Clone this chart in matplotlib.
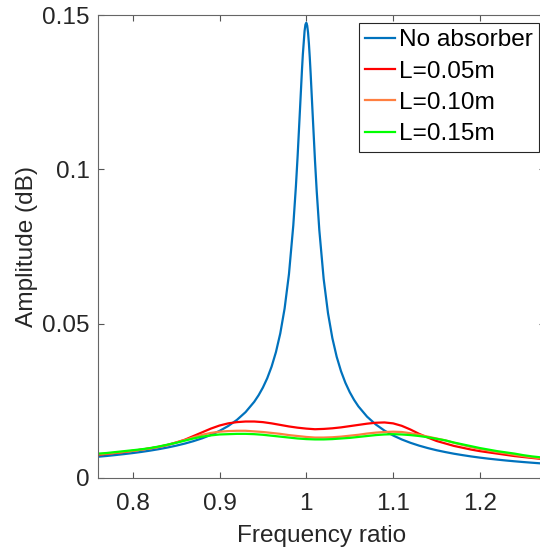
import matplotlib
matplotlib.use('Agg')
import matplotlib.pyplot as plt

# frequency ratio samples for the response without absorber
r_plain = [0.76, 0.77, 0.78, 0.79, 0.80, 0.81, 0.82, 0.83, 0.84, 0.85, 0.86,
           0.87, 0.88, 0.89, 0.90, 0.91, 0.92, 0.93, 0.94, 0.945, 0.95, 0.955,
           0.96, 0.965, 0.97, 0.975, 0.98, 0.985, 0.988, 0.99, 0.993, 0.995,
           0.996, 0.998, 0.999, 1.0, 1.001, 1.002, 1.003, 1.004, 1.005, 1.007,
           1.01, 1.012, 1.015, 1.02, 1.025, 1.03, 1.035, 1.04, 1.045, 1.05,
           1.055, 1.06, 1.07, 1.08, 1.09, 1.10, 1.11, 1.12, 1.13, 1.14, 1.15,
           1.16, 1.17, 1.18, 1.19, 1.20, 1.21, 1.22, 1.23, 1.24, 1.25, 1.26, 1.275]
amp_plain = [0.00689, 0.00714, 0.00743, 0.00774, 0.00808, 0.00845, 0.00887,
             0.00934, 0.00987, 0.01047, 0.01115, 0.01194, 0.01286, 0.01395,
             0.01525, 0.01684, 0.01881, 0.02134, 0.02469, 0.0268, 0.02931,
             0.03234, 0.03608, 0.04078, 0.04684, 0.05492, 0.06603, 0.08183,
             0.09445, 0.10434, 0.1210, 0.1322, 0.1372, 0.1448, 0.1469, 0.1475,
             0.1466, 0.1443, 0.1407, 0.1362, 0.1310, 0.1196, 0.1028, 0.09288,
             0.08025, 0.06448, 0.05338, 0.04533, 0.03927, 0.03459, 0.03086,
             0.02783, 0.02532, 0.02321, 0.01987, 0.01735, 0.01537, 0.01378,
             0.01248, 0.01140, 0.01048, 0.00969, 0.00900, 0.00841, 0.00787,
             0.00741, 0.00698, 0.00660, 0.00626, 0.00596, 0.00567, 0.00541,
             0.00517, 0.00495, 0.00464]

# frequency ratio samples for the absorber cases
r_abs = [0.76, 0.77, 0.78, 0.79, 0.80, 0.81, 0.82, 0.83, 0.84, 0.85, 0.86,
         0.87, 0.88, 0.89, 0.90, 0.91, 0.92, 0.93, 0.94, 0.95, 0.96, 0.97,
         0.98, 0.99, 1.00, 1.01, 1.02, 1.03, 1.04, 1.05, 1.06, 1.07, 1.08,
         1.09, 1.10, 1.11, 1.12, 1.13, 1.14, 1.15, 1.16, 1.17, 1.18, 1.19,
         1.20, 1.21, 1.22, 1.23, 1.24, 1.25, 1.26, 1.27, 1.275]
amp_05 = [0.0075, 0.0078, 0.0081, 0.0084, 0.0088, 0.0092, 0.0096, 0.0101,
          0.0107, 0.0115, 0.0124, 0.0136, 0.0148, 0.0160, 0.0170, 0.0177,
          0.0181, 0.0183, 0.0183, 0.0181, 0.0177, 0.0172, 0.0167, 0.0163,
          0.0160, 0.0158, 0.0159, 0.0161, 0.0164, 0.0168, 0.0172, 0.0176,
          0.0179, 0.0180, 0.0177, 0.0169, 0.0157, 0.0143, 0.0131, 0.0120,
          0.0112, 0.0104, 0.0098, 0.0092, 0.0087, 0.0083, 0.0079, 0.0075,
          0.0071, 0.0068, 0.0065, 0.0062, 0.0060]
amp_10 = [0.0077, 0.0079, 0.0082, 0.0085, 0.0088, 0.0092, 0.0096, 0.0101,
          0.0107, 0.0115, 0.0123, 0.0132, 0.0140, 0.0146, 0.0150, 0.0152,
          0.0153, 0.0153, 0.0151, 0.0149, 0.0146, 0.0143, 0.0139, 0.0136,
          0.0133, 0.0131, 0.0131, 0.0132, 0.0134, 0.0137, 0.0140, 0.0144,
          0.0147, 0.0149, 0.0150, 0.0149, 0.0145, 0.0140, 0.0134, 0.0128,
          0.0122, 0.0114, 0.0107, 0.0100, 0.0094, 0.0089, 0.0084, 0.0080,
          0.0075, 0.0071, 0.0067, 0.0064, 0.0062]
amp_15 = [0.0079, 0.0081, 0.0084, 0.0087, 0.0090, 0.0093, 0.0097, 0.0102,
          0.0108, 0.0114, 0.0121, 0.0128, 0.0134, 0.0138, 0.0141, 0.0142,
          0.0143, 0.0143, 0.0142, 0.0140, 0.0137, 0.0134, 0.0131, 0.0128,
          0.0126, 0.0125, 0.0125, 0.0126, 0.0128, 0.0130, 0.0133, 0.0136,
          0.0139, 0.0141, 0.0142, 0.0141, 0.0139, 0.0136, 0.0132, 0.0127,
          0.0122, 0.0115, 0.0109, 0.0103, 0.0097, 0.0092, 0.0087, 0.0083,
          0.0079, 0.0074, 0.0070, 0.0067, 0.0066]

xticks = [0.8, 0.9, 1.0, 1.1, 1.2]
xticklabels = ['0.8', '0.9', '1', '1.1', '1.2']
yticks = [0, 0.05, 0.1, 0.15]
yticklabels = ['0', '0.05', '0.1', '0.15']

plt.rcParams['font.family'] = ['Liberation Sans', 'DejaVu Sans']
fs = 17.6
txt = '#262626'

W, H = 540, 552
fig = plt.figure(figsize=(W / 100, H / 100), dpi=100)
ax = fig.add_axes([98 / W, 74 / H, (545 - 98) / W, (478 - 15) / H])

ax.plot(r_plain, amp_plain, color='#0072BD', lw=1.6, label='No absorber')
ax.plot(r_abs, amp_05, color='#FF0000', lw=1.6, label='L=0.05m')
ax.plot(r_abs, amp_10, color='#FF7F40', lw=1.6, label='L=0.10m')
ax.plot(r_abs, amp_15, color='#00FF00', lw=1.6, label='L=0.15m')

ax.set_xlim(0.76, 1.275)
ax.set_ylim(0, 0.15)
ax.set_xticks(xticks)
ax.set_xticklabels(xticklabels)
ax.set_yticks(yticks)
ax.set_yticklabels(yticklabels)
ax.tick_params(direction='in', length=4, width=0.8, color='#555555',
               labelsize=fs, labelcolor=txt, top=True, right=True)
ax.tick_params(axis='x', pad=11)
ax.tick_params(axis='y', pad=6)
for s in ax.spines.values():
    s.set_color('#666666')
    s.set_linewidth(0.8)

ax.set_xlabel('Frequency ratio', fontsize=fs, color=txt, labelpad=7)
ax.set_ylabel('Amplitude (dB)', fontsize=fs, color=txt, labelpad=3)

leg = ax.legend(loc='upper right', bbox_to_anchor=(539 / W, 1 - 23 / H),
                bbox_transform=fig.transFigure, borderaxespad=0,
                fontsize=fs, fancybox=False, framealpha=1, edgecolor='#262626',
                handlelength=1.22, handletextpad=0.18, borderpad=0.25,
                labelspacing=0.38)
leg.get_frame().set_linewidth(0.8)

fig.savefig('out.png', dpi=100)
